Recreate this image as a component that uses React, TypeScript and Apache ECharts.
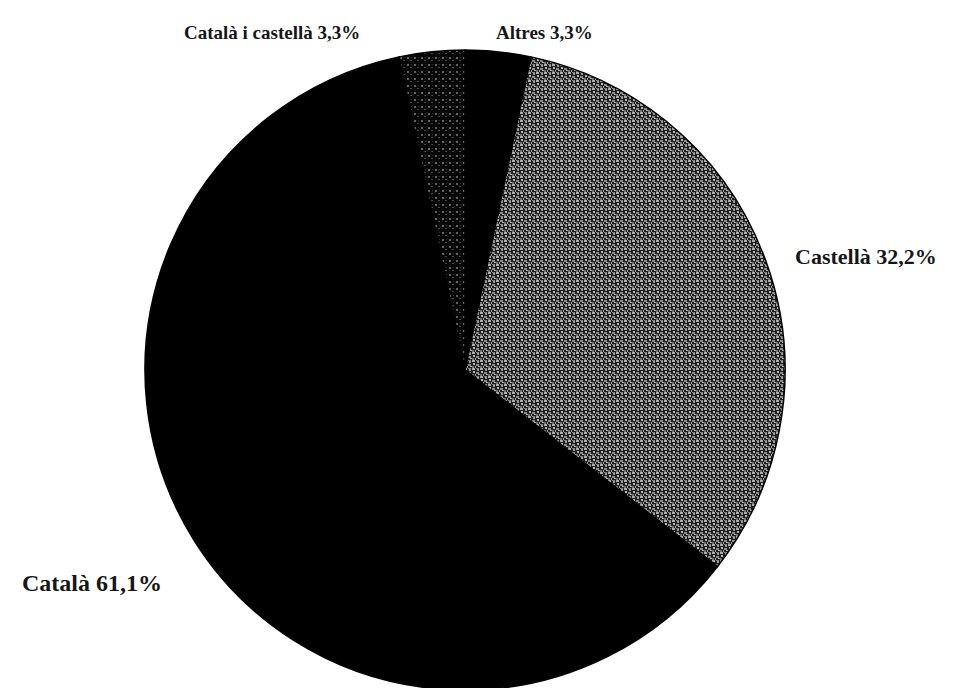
import React, { useEffect, useRef } from "react";
import * as echarts from "echarts";

// Share of respondents by language (percent), listed clockwise from 12 o'clock
const categories = ["Altres", "Castellà", "Català", "Català i castellà"];
const shares = [3.3, 32.2, 61.1, 3.3];

// Where each slice's caption sits (left edge, vertical middle), in the same order
const labelAnchors: [number, number][] = [
  [496, 32],
  [795, 256],
  [22, 583],
  [184, 32],
];
const labelSizes = [19, 22, 24, 19];

function makeTile(
  size: number,
  bg: string,
  marks: [number, number, number, number, string][]
): HTMLCanvasElement {
  const c = document.createElement("canvas");
  c.width = size;
  c.height = size;
  const ctx = c.getContext("2d")!;
  ctx.fillStyle = bg;
  ctx.fillRect(0, 0, size, size);
  for (const [x, y, w, h, col] of marks) {
    ctx.fillStyle = col;
    ctx.fillRect(x, y, w, h);
  }
  return c;
}

// Coarse woven grey texture for "Castellà"
function weaveTile() {
  return makeTile(8, "#1f1f1f", [
    [0, 0, 3, 2, "#aaaaaa"],
    [4, 0, 3, 1, "#828282"],
    [5, 1, 2, 2, "#9c9c9c"],
    [1, 3, 2, 2, "#b8b8b8"],
    [4, 4, 3, 2, "#8a8a8a"],
    [0, 6, 2, 2, "#747474"],
    [3, 6, 1, 2, "#a0a0a0"],
    [6, 6, 2, 1, "#b0b0b0"],
  ]);
}

// Sparse dim dots for "Català i castellà"
function dotTile() {
  return makeTile(7, "#070707", [
    [1, 1, 2, 2, "#626262"],
    [4, 4, 2, 1, "#464646"],
    [5, 1, 1, 1, "#2e2e2e"],
  ]);
}

function fmt(v: number) {
  return v.toFixed(1).replace(".", ",") + "%";
}

export default function App() {
  const ref = useRef<HTMLDivElement>(null);

  useEffect(() => {
    if (!ref.current) return;
    const chart = echarts.init(ref.current, undefined, { renderer: "svg" });
    const fills: any[] = [
      "#000000",
      { image: weaveTile(), repeat: "repeat" },
      "#000000",
      { image: dotTile(), repeat: "repeat" },
    ];
    chart.setOption({
      animation: false,
      backgroundColor: "#ffffff",
      series: [
        {
          type: "pie",
          center: [465, 370],
          radius: 320,
          startAngle: 90,
          clockwise: true,
          avoidLabelOverlap: false,
          data: categories.map((name, i) => ({
            name,
            value: shares[i],
            itemStyle: { color: fills[i] },
            label: { fontSize: labelSizes[i] },
          })),
          itemStyle: { borderColor: "#000", borderWidth: 1.5 },
          emphasis: { disabled: true },
          labelLine: { show: false },
          label: {
            show: true,
            position: "outside",
            formatter: (p: any) => `${p.name} ${fmt(p.value)}`,
            fontFamily: "Liberation Serif",
            fontWeight: "bold",
            color: "#161616",
          },
          labelLayout: (p: any) => {
            const [x, y] = labelAnchors[p.dataIndex];
            return { x, y, align: "left", verticalAlign: "middle" };
          },
        },
      ],
    });
    return () => chart.dispose();
  }, []);

  return (
    <div
      ref={ref}
      style={{ position: "fixed", left: 0, top: 0, width: 971, height: 688 }}
    />
  );
}
